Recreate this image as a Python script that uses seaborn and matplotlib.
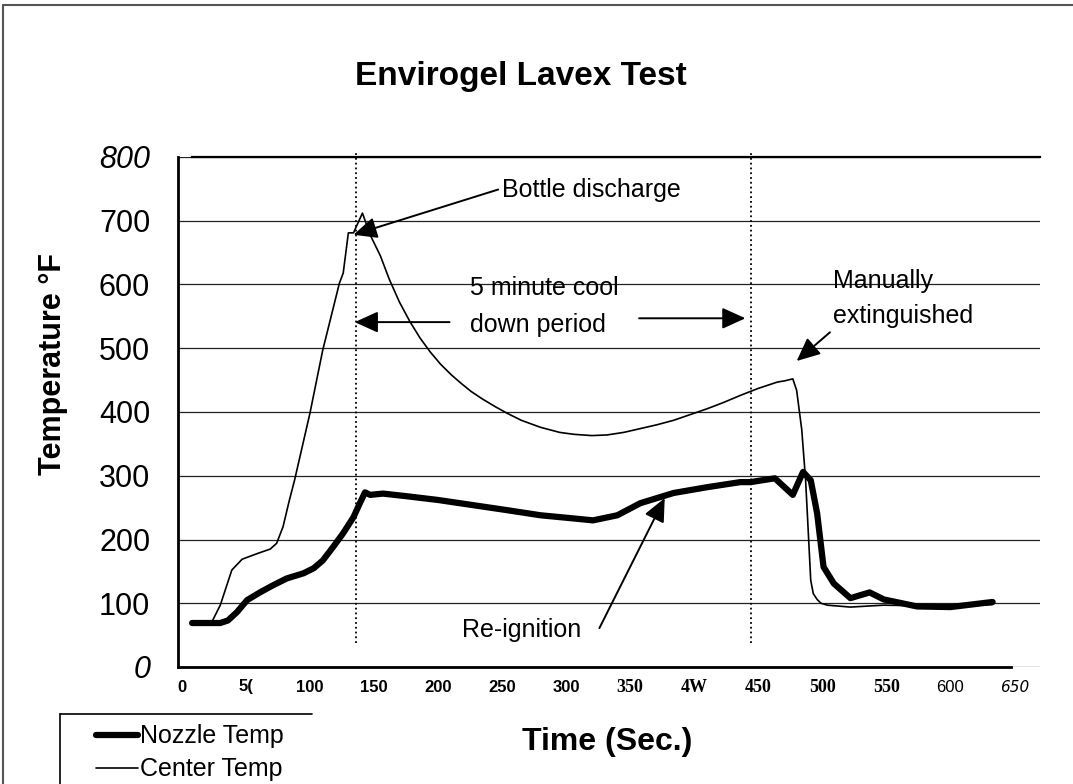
import matplotlib
matplotlib.use('Agg')
import matplotlib.pyplot as plt
from matplotlib.lines import Line2D
import seaborn as sns
import numpy as np

# time (sec) and temperature (F)
nozzle_t = [8, 30, 36, 43, 51, 61, 71, 82, 95, 103, 110, 118, 126, 134, 139, 143, 147,
            157, 175, 200, 227, 254, 280, 306, 321, 340, 358, 384, 410, 436, 444, 463,
            477, 485, 491, 496, 501, 509, 522, 537, 548, 574, 600, 633]
nozzle_T = [69, 69, 73, 86, 105, 117, 128, 139, 147, 155, 167, 188, 210, 235, 257, 274, 270,
            272, 268, 262, 254, 246, 238, 233, 230, 238, 257, 273, 282, 290, 290, 296,
            270, 306, 293, 241, 157, 131, 108, 117, 106, 95, 94, 102]

center_t = [8, 23, 30, 39, 47, 59, 69, 74, 79, 84, 88, 100, 110, 123, 126, 130, 134, 141,
            147, 155, 162, 170, 178, 186, 194, 202, 210, 218, 226, 235, 245, 254, 265, 280,
            295, 306, 320, 332, 345, 358, 371, 384, 397, 410, 423, 436, 450, 465, 471, 477,
            480, 484, 487, 489, 491, 493, 496, 499, 504, 522, 548, 575, 600, 633]
center_T = [69, 69, 97, 152, 169, 178, 185, 194, 220, 262, 293, 398, 497, 602, 618, 681, 681,
            712, 678, 645, 608, 572, 542, 516, 494, 475, 459, 445, 432, 420, 408, 398, 387, 376,
            368, 365, 363, 364, 368, 374, 380, 387, 396, 405, 415, 426, 437, 447, 449, 452,
            434, 372, 293, 215, 136, 115, 106, 100, 97, 94, 97, 96, 95, 98]

event_times = [136, 444]   # bottle discharge / end of cool down

xticks = [0, 50, 100, 150, 200, 250, 300, 350, 400, 450, 500, 550, 600, 650]
xlabels = ['0', '5(', '100', '150', '200', '250', '300', '350', '4W', '450', '500', '550', '600', '650']
yticks = [0, 100, 200, 300, 400, 500, 600, 700, 800]
ylabels = ['0', '100', '200', '300', '400', '500', '600', '700', '800']

sns.set_theme(style='white')
plt.rcParams['font.family'] = ['Liberation Sans', 'DejaVu Sans']
plt.rcParams['text.color'] = 'black'
plt.rcParams['axes.labelcolor'] = 'black'
plt.rcParams['xtick.color'] = 'black'
plt.rcParams['ytick.color'] = 'black'

W, H = 1073, 784
fig = plt.figure(figsize=(W / 100, H / 100), dpi=100)
fig.patch.set_facecolor('white')
ax = fig.add_axes([178 / W, 1 - 667 / H, 862 / W, 510 / H])

sns.lineplot(x=nozzle_t, y=nozzle_T, ax=ax, color='black', lw=4.5, sort=False, label='Nozzle Temp')
sns.lineplot(x=center_t, y=center_T, ax=ax, color='black', lw=1.2, sort=False, label='Center Temp')

ax.set_xlim(-3, 670)
ax.set_ylim(0, 800)

# grid + frame
ax.yaxis.grid(True, color='#222222', lw=0.9)
ax.xaxis.grid(False)
ax.set_axisbelow(True)
for s in ['left', 'bottom']:
    ax.spines[s].set_color('black')
    ax.spines[s].set_linewidth(2)
ax.spines['top'].set_color('black')
ax.spines['top'].set_linewidth(1.6)
ax.spines['top'].set_bounds(8, 670)
ax.spines['bottom'].set_bounds(-3, 647)
ax.spines['right'].set_visible(False)

ax.vlines(event_times, 38, 806, colors='black', linestyles=':', lw=1.3, clip_on=False)

# ticks with the scan's mixed fonts
ax.set_xticks(xticks)
ax.set_xticklabels(xlabels)
ax.set_yticks(yticks)
ax.set_yticklabels(ylabels)
ax.tick_params(axis='both', length=0)
ax.tick_params(axis='x', pad=9)
ax.tick_params(axis='y', pad=20)
for lab in ax.get_xticklabels():
    t = lab.get_text()
    lab.set_fontsize(12)
    if t in ['350', '4W', '450', '500', '550']:
        lab.set_family('Liberation Serif')
        lab.set_fontweight('bold')
        lab.set_fontsize(13)
    elif t == '600':
        lab.set_fontweight('normal')
    elif t == '650':
        lab.set_family('DejaVu Sans')
        lab.set_style('italic')
        lab.set_fontsize(11)
    else:
        lab.set_fontweight('bold')
for lab in ax.get_yticklabels():
    lab.set_fontsize(22)
    if lab.get_text() in ['0', '800']:
        lab.set_style('italic')

ax.set_xlabel('')
ax.set_ylabel('Temperature °F', fontsize=22, fontweight='bold')
ax.yaxis.set_label_coords(-0.128, 0.595)

fig.text(355 / W, 1 - 85 / H, 'Envirogel Lavex Test', ha='left', va='baseline',
         fontsize=24, fontweight='bold')
fig.text(522 / W, 1 - 750 / H, 'Time (Sec.)', ha='left', va='baseline',
         fontsize=23, fontweight='bold')

# annotations
afs = 18
arr = dict(arrowstyle='-|>,head_length=0.55,head_width=0.25', color='black', lw=1.4,
           mutation_scale=26, shrinkA=0, shrinkB=0)
ax.text(250, 748, 'Bottle discharge', fontsize=afs, va='center', ha='left')
ax.annotate('', xy=(134, 678), xytext=(247, 749), arrowprops=arr)

ax.text(225, 583, '5 minute cool', fontsize=afs, va='baseline', ha='left')
ax.text(225, 525, 'down period', fontsize=afs, va='baseline', ha='left')
ax.annotate('', xy=(135, 541), xytext=(209, 541), arrowprops=arr)
ax.annotate('', xy=(440, 547), xytext=(357, 547), arrowprops=arr)

ax.text(508, 595, 'Manually', fontsize=afs, va='baseline', ha='left')
ax.text(508, 540, 'extinguished', fontsize=afs, va='baseline', ha='left')
ax.annotate('', xy=(480, 480), xytext=(506, 525), arrowprops=arr)

ax.text(219, 47, 'Re-ignition', fontsize=afs, va='baseline', ha='left')
ax.annotate('', xy=(377, 265), xytext=(326, 61), arrowprops=arr)

# legend, its box runs off the bottom of the page
ax.legend(loc='upper left', bbox_to_anchor=(83 / W, 1 - 712 / H), bbox_transform=fig.transFigure,
          frameon=False, fontsize=18, handlelength=1.7, handletextpad=0.1, borderpad=0,
          labelspacing=0.35)
fig.add_artist(Line2D([60 / W, 312 / W], [1 - 714 / H, 1 - 714 / H], transform=fig.transFigure,
                      color='black', lw=1.2))
fig.add_artist(Line2D([60 / W, 60 / W], [1 - 714 / H, 0], transform=fig.transFigure,
                      color='black', lw=1.2))

# page border from the scan
fig.add_artist(Line2D([3 / W, 1], [1 - 5 / H, 1 - 5 / H], transform=fig.transFigure,
                      color='#555555', lw=1.5))
fig.add_artist(Line2D([3 / W, 3 / W], [1 - 5 / H, 0], transform=fig.transFigure,
                      color='#555555', lw=1.5))

fig.savefig('out.png', dpi=100, facecolor='white')
